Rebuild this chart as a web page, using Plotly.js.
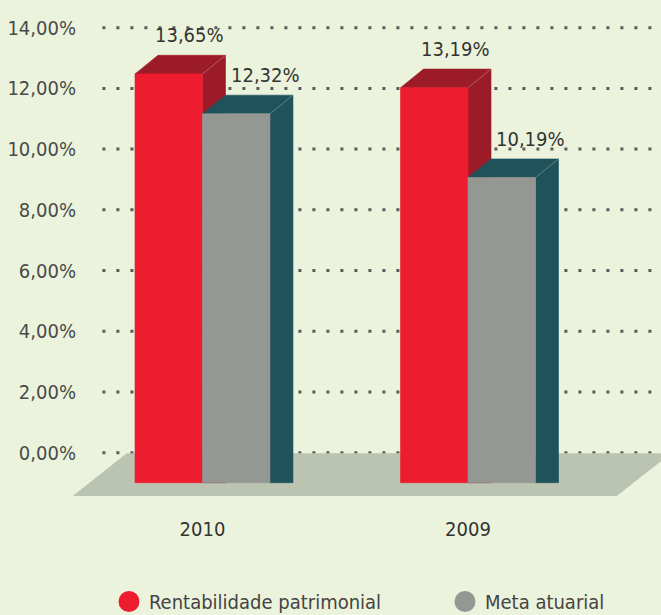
<!DOCTYPE html>
<html>
<head>
<meta charset="utf-8">
<script src="https://cdn.plot.ly/plotly-3.0.1.min.js"></script>
<style>html,body{margin:0;padding:0;background:#ecf3dc;}#chart{width:661px;height:615px;}</style>
</head>
<body>
<div id="chart"></div>
<script>
// ---- data ----
const categories = ['2010', '2009'];
const seriesNames = ['Rentabilidade patrimonial', 'Meta atuarial'];
const rentabilidade = [13.65, 13.19];
const metaAtuarial = [12.32, 10.19];
const yTickVals = [0, 2, 4, 6, 8, 10, 12, 14];
const yTickText = ['0,00%', '2,00%', '4,00%', '6,00%', '8,00%', '10,00%', '12,00%', '14,00%'];

// ---- style ----
const FONT = "'DejaVu Sans Condensed', 'DejaVu Sans', sans-serif";
const BG = '#ecf3dc';
const barW = 0.2542;        // bar width in x units
const depthX = 0.0866;      // 3D depth in x units
const depthY = 0.62;        // 3D depth in bar-axis units
const colors = [
  {front: '#ed1c2e', top: '#9b1c28', side: '#9b1c28', legend: '#ed1c2e', xshift: -2, legendX: 109},
  {front: '#959792', top: '#1f525b', side: '#1f525b', legend: '#959792', xshift: 6, legendX: 445}
];
const fmt = v => v.toFixed(2).replace('.', ',') + '%';

const xIdx = categories.map((c, i) => i);
const series = [rentabilidade, metaAtuarial];

const traces = [];

// dotted gridlines (main y axis)
const gx = [], gy = [];
yTickVals.forEach(v => { gx.push(-0.377, 1.8, null); gy.push(v, v, null); });
traces.push({x: gx, y: gy, xaxis: 'x', yaxis: 'y', mode: 'lines',
  line: {color: '#5a5a5a', width: 3, dash: '3px,11px'}, hoverinfo: 'skip', showlegend: false});

// floor (bar axis)
const fl = {x0b: -0.489, x0t: -0.2855, x1b: 1.56, x1t: 1.765, yb: -0.444, yt: 0.98};
traces.push({x: [fl.x0b, fl.x1b, fl.x1t, fl.x0t, fl.x0b], y: [fl.yb, fl.yb, fl.yt, fl.yt, fl.yb],
  xaxis: 'x', yaxis: 'y2', mode: 'lines', fill: 'toself', fillcolor: '#bac4b1',
  line: {width: 0, color: '#bac4b1'}, hoverinfo: 'skip', showlegend: false});

const annotations = [];
series.forEach((vals, s) => {
  const off = s === 0 ? -barW : 0;
  const side = {x: [], y: []}, top = {x: [], y: []}, front = {x: [], y: []}, edge = {x: [], y: []};
  xIdx.forEach((xi, k) => {
    const v = vals[k];
    const x0 = xi + off, x1 = x0 + barW;
    side.x.push(x1, x1, x1 + depthX, x1 + depthX, x1, null);
    side.y.push(0, v, v + depthY, 0, 0, null);
    top.x.push(x0, x1, x1 + depthX, x0 + depthX, x0, null);
    top.y.push(v, v, v + depthY, v + depthY, v, null);
    front.x.push(x0, x1, x1, x0, x0, null);
    front.y.push(0, 0, v, v, 0, null);
    edge.x.push(x1, x1 + depthX, null);
    edge.y.push(v, v + depthY, null);
    annotations.push({x: (x0 + x1) / 2 + depthX, y: v + depthY, xref: 'x', yref: 'y2',
      text: fmt(v), showarrow: false, yanchor: 'bottom', yshift: 6, xshift: colors[s].xshift,
      font: {family: FONT, size: 20, color: '#333333'}});
  });
  [[side, colors[s].side], [top, colors[s].top], [front, colors[s].front]].forEach(([p, c]) => {
    traces.push({x: p.x, y: p.y, xaxis: 'x', yaxis: 'y2', mode: 'lines', fill: 'toself',
      fillcolor: c, line: {width: 0.6, color: c}, hoverinfo: 'skip', showlegend: false});
  });
  traces.push({x: edge.x, y: edge.y, xaxis: 'x', yaxis: 'y2', mode: 'lines',
    line: {width: 0.8, color: 'rgba(255,255,255,0.3)'}, hoverinfo: 'skip', showlegend: false});
});

// legend entries (two legends so both sit on one row)
seriesNames.forEach((n, s) => {
  traces.push({x: [null], y: [null], xaxis: 'x', yaxis: 'y2', mode: 'markers', name: n,
    legend: s === 0 ? 'legend' : 'legend2',
    marker: {symbol: 'circle', size: 22, color: colors[s].legend, line: {width: 5, color: colors[s].legend}},
    showlegend: true});
});

const legendStyle = x => ({orientation: 'h', x: x / 661, xanchor: 'left', y: -6 / 615, yanchor: 'bottom',
  itemsizing: 'trace', font: {family: FONT, size: 20, color: '#444444'}, bgcolor: 'rgba(0,0,0,0)', borderwidth: 0});

const layout = {
  width: 661, height: 615,
  margin: {l: 0, r: 0, t: 0, b: 0, autoexpand: false},
  paper_bgcolor: BG, plot_bgcolor: BG,
  font: {family: FONT, color: '#444444'},
  showlegend: true,
  legend: legendStyle(colors[0].legendX),
  legend2: legendStyle(colors[1].legendX),
  xaxis: {range: [-0.7627, 1.7269], tickvals: xIdx, ticktext: categories, anchor: 'free', position: 110 / 615,
    showgrid: false, zeroline: false, showline: false, ticks: '',
    ticklabelstandoff: 10, tickfont: {family: FONT, size: 20, color: '#333333'}, fixedrange: true},
  yaxis: {range: [-5.346, 14.911], anchor: 'free', position: 86 / 661, side: 'left',
    tickvals: yTickVals, ticktext: yTickText, showgrid: false, zeroline: false, showline: false,
    ticks: 'outside', ticklen: 6, tickcolor: 'rgba(0,0,0,0)',
    tickfont: {family: FONT, size: 20, color: '#4a4a4a'}, fixedrange: true},
  yaxis2: {range: [-4.417, 16.117], overlaying: 'y', visible: false, fixedrange: true},
  annotations: annotations
};

Plotly.newPlot('chart', traces, layout, {displayModeBar: false, staticPlot: true});
</script>
</body>
</html>
